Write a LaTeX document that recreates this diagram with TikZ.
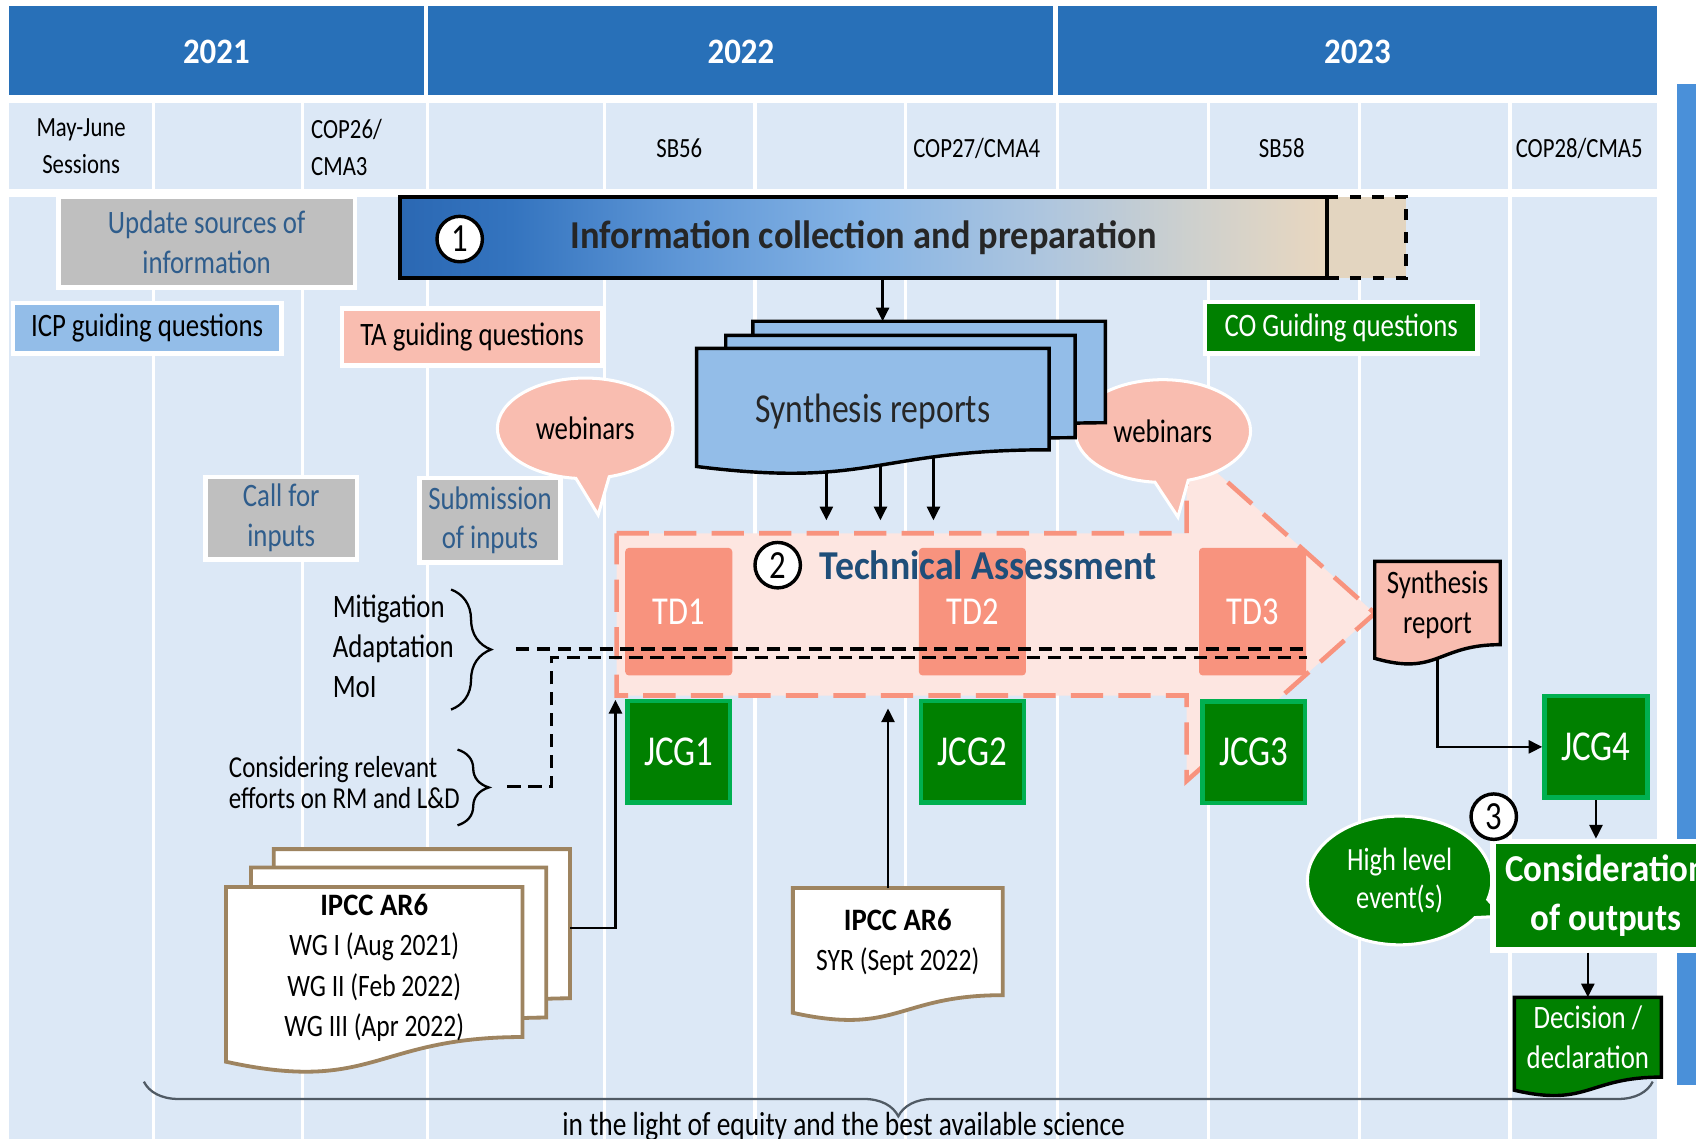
\documentclass[tikz,border=0pt]{standalone}
\usepackage{fontspec}
\setmainfont{Carlito}[FakeStretch=0.82]
\newfontfamily\headfont{Carlito}[FakeStretch=0.92]
\usetikzlibrary{positioning,calc,arrows.meta,shapes.callouts,decorations.pathreplacing}
\definecolor{yearblue}{HTML}{2870B8}
\definecolor{paleblue}{HTML}{DCE8F6}
\definecolor{sideblue}{HTML}{4A90D9}
\definecolor{boxgray}{HTML}{BFBFBF}
\definecolor{inkblue}{HTML}{2F5D8C}
\definecolor{lightblue}{HTML}{93BDE8}
\definecolor{salmon}{HTML}{F9BDB0}
\definecolor{tdsalmon}{HTML}{F8937E}
\definecolor{tafill}{HTML}{FDE6E1}
\definecolor{darkgreen}{HTML}{008000}
\definecolor{brightgreen}{HTML}{00B050}
\definecolor{titleblue}{HTML}{1F4E79}
\definecolor{docbrown}{HTML}{9E8460}
\definecolor{darktext}{HTML}{262626}
\definecolor{bracegray}{HTML}{505A64}
\definecolor{infotail}{HTML}{E3D5C0}
\definecolor{infoA}{HTML}{2B68B3}
\definecolor{infoB}{HTML}{3474BF}
\definecolor{infoC}{HTML}{5E96D6}
\definecolor{infoD}{HTML}{86B4E5}
\definecolor{infoE}{HTML}{AFC6DE}
\definecolor{infoF}{HTML}{CDD0CE}
\definecolor{infoG}{HTML}{E9D7BF}
\pgfdeclarehorizontalshading{infoshade}{100bp}{color(0bp)=(infoA); color(25bp)=(infoA); color(31bp)=(infoB); color(40bp)=(infoC); color(50bp)=(infoD); color(60bp)=(infoE); color(67.5bp)=(infoF); color(75bp)=(infoG); color(100bp)=(infoG)}
\newcommand{\docshape}[3]{%
  \path[#1] let \p1=#2, \p2=#3 in
    (\x1,\y1) -- (\x2,\y1) -- (\x2,{\y1+0.802*(\y2-\y1)})
    .. controls ({0.5*(\x1+\x2)},{\y1+0.802*(\y2-\y1)}) and ({0.5*(\x1+\x2)},{\y1+1.1075*(\y2-\y1)})
    .. (\x1,{\y1+0.934*(\y2-\y1)}) -- cycle;}

\begin{document}
\begin{tikzpicture}[>={Triangle[length=3.6pt,width=3.4pt]},
	every node/.style={font=\fontsize{8.6}{10.5}\selectfont},
	year/.style={text=white,font=\headfont\bfseries\fontsize{9.4}{11}\selectfont},
	session/.style={align=center,font=\fontsize{7.3}{9.7}\selectfont},
	graybox/.style={fill=boxgray,draw=white,line width=1.2pt,text=inkblue,align=center,inner sep=0pt},
	guide/.style={draw=white,line width=1.2pt,inner sep=0pt,minimum height=0.48cm},
	circ/.style={circle,draw=black,fill=white,line width=0.9pt,minimum size=0.42cm,inner sep=0pt,font=\fontsize{10.5}{12}\selectfont},
	tdbox/.style={fill=tdsalmon,rounded corners=1pt,minimum width=0.99cm,minimum height=1.18cm,text=white,font=\fontsize{10.4}{12}\selectfont},
	jcg/.style={fill=darkgreen,draw=brightgreen,line width=1.2pt,minimum width=0.95cm,minimum height=0.94cm,text=white,font=\fontsize{11.2}{13}\selectfont},
	bubble/.style={ellipse callout,fill=salmon,draw=white,line width=0.8pt,callout pointer arc=22},
	doctext/.style={anchor=north,align=center,inner sep=0pt},
	link/.style={->,line width=0.7pt},
	dline/.style={dash pattern=on 3.5pt off 2pt,line width=0.8pt}]
	\useasboundingbox (0,0) rectangle (15.68,-10.53);
	\clip (0,0) rectangle (15.68,-10.53);
	\fill[white] (0,0) rectangle (15.68,-10.53);
	\fill[yearblue] (0.08,-0.06) rectangle (15.32,-0.88);
	\draw[white,line width=1.2pt] (3.94,-0.06) -- (3.94,-0.88) (9.76,-0.06) -- (9.76,-0.88);
	\fill[paleblue] (0.08,-0.95) rectangle (15.32,-10.53);
	\fill[white] (0.08,-1.75) rectangle (15.32,-1.82);
	\foreach \x in {1.42,2.80,3.95,5.59,6.98,8.37,9.78,11.17,12.57,13.96}
		\draw[white,line width=0.8pt] (\x,-0.95) -- (\x,-10.53);
	\fill[sideblue] (15.50,-0.78) rectangle (15.68,-10.03);

	\node[year] (y2021) at (2.00,-0.48) {2021};
	\node[year] (y2022) at (6.85,-0.48) {2022};
	\node[year] (y2023) at (12.55,-0.48) {2023};
	\node[session] (mayjune) at (0.75,-1.35) {May-June\\Sessions};
	\node[session,align=left,anchor=west,inner sep=0pt] (cop26) at (2.87,-1.365) {COP26/\\CMA3};
	\node[session] (sb56) at (6.28,-1.37) {SB56};
	\node[session] (cop27) at (9.03,-1.37) {COP27/CMA4};
	\node[session] (sb58) at (11.85,-1.37) {SB58};
	\node[session] (cop28) at (14.60,-1.37) {COP28/CMA5};

	\node[graybox,minimum width=2.74cm,minimum height=0.84cm] (update) at (1.91,-2.24) {Update sources of\\information};
	\node[guide,fill=lightblue,minimum width=2.48cm,minimum height=0.47cm] (icpq) at (1.36,-3.035) {ICP guiding questions};
	\node[guide,fill=salmon,minimum width=2.41cm,minimum height=0.53cm] (taq) at (4.365,-3.115) {TA guiding questions};
	\node[guide,fill=darkgreen,text=white,minimum width=2.52cm] (coq) at (12.40,-3.03) {CO Guiding questions};

	\node[draw=black,dashed,line width=1pt,fill=infotail,minimum width=0.73cm,minimum height=0.75cm] (infoext) at (12.635,-2.195) {};
	\node[draw=black,line width=1.2pt,shade,shading=infoshade,minimum width=8.57cm,minimum height=0.75cm,text=darktext,font=\headfont\bfseries\fontsize{10.4}{12}\selectfont] (info) at (7.985,-2.195) {Information collection and preparation};
	\node[circ] (one) at (4.25,-2.21) {1};

	\path[fill=tafill,draw=tdsalmon,line width=1.2pt,dash pattern=on 8.5pt off 4pt] (5.70,-4.93) -- (10.97,-4.93) -- (10.97,-4.12) -- (12.71,-5.67) -- (10.97,-7.22) -- (10.97,-6.43) -- (5.70,-6.43) -- cycle;
	\coordinate (tatop) at (8,-4.93);
	\coordinate (tabot) at (8,-6.43);

	\node[bubble,minimum width=1.48cm,minimum height=0.93cm,callout absolute pointer={(5.53,-4.76)}] (webinars1) at (5.41,-3.96) {webinars};
	\node[bubble,minimum width=1.50cm,minimum height=0.95cm,callout absolute pointer={(10.89,-4.78)}] (webinars2) at (10.75,-3.985) {webinars};

	\docshape{fill=lightblue,draw=black,line width=0.9pt}{(6.96,-2.97)}{(10.22,-4.14)}
	\docshape{fill=lightblue,draw=black,line width=0.9pt}{(6.71,-3.10)}{(9.94,-4.28)}
	\docshape{fill=lightblue,draw=black,line width=0.9pt}{(6.44,-3.22)}{(9.70,-4.39)}
	\node[doctext,minimum width=3.26cm,minimum height=1.16cm,text=darktext,font=\fontsize{10.8}{13}\selectfont] (synth) at (8.07,-3.22) {Synthesis reports};
	\coordinate (synthtop) at (8.16,-2.97);
	\draw[link] (info.south -| synthtop) -- (synthtop);
	\coordinate (synthout1) at (7.64,-4.36);
	\coordinate (synthout2) at (8.14,-4.30);
	\coordinate (synthout3) at (8.63,-4.22);
	\foreach \c in {synthout1,synthout2,synthout3}
		\draw[link,shorten >=3.4pt] (\c) -- (\c |- tatop);

	\node[tdbox] (td1) at (6.275,-5.655) {TD1};
	\node[tdbox] (td2) at (8.99,-5.655) {TD2};
	\node[tdbox] (td3) at (11.58,-5.655) {TD3};
	\node[circ] (two) at (7.19,-5.225) {2};
	\node[anchor=west,inner sep=0pt,text=titleblue,font=\headfont\bfseries\fontsize{10.8}{13}\selectfont] (tatitle) at (7.57,-5.23) {Technical Assessment};

	\node[jcg] (jcg1) at (6.275,-6.95) {JCG1};
	\node[jcg] (jcg2) at (8.99,-6.95) {JCG2};
	\node[jcg] (jcg3) at (11.59,-6.955) {JCG3};
	\node[jcg] (jcg4) at (14.755,-6.905) {JCG4};

	\node[anchor=west,align=left,inner sep=0pt,font=\fontsize{8.6}{10.4}\selectfont] (topics) at (3.07,-5.975) {Mitigation\\Adaptation\\MoI};
	\draw[decorate,decoration={brace,amplitude=0.37cm},line width=0.6pt] (4.17,-5.45) -- (4.17,-6.56);
	\node[anchor=west,align=left,inner sep=0pt,font=\fontsize{8.0}{8.3}\selectfont] (efforts) at (2.11,-7.235) {Considering relevant\\efforts on RM and L\&D};
	\draw[decorate,decoration={brace,amplitude=0.29cm},line width=0.6pt] (4.23,-6.93) -- (4.23,-7.63);
	\coordinate (topicsend) at (4.77,-6.00);
	\coordinate (effortsend) at (4.69,-7.27);
	\draw[dline] (topicsend) -- (topicsend -| td3.east);
	\draw[dline] (effortsend) -| (5.10,-6.08) -- (td3.east |- 0,-6.08);

	\node[graybox,minimum width=1.40cm,minimum height=0.76cm] (callin) at (2.60,-4.79) {Call for\\inputs};
	\node[graybox,minimum width=1.30cm,minimum height=0.78cm] (submit) at (4.53,-4.81) {Submission\\of inputs};

	\docshape{fill=white,draw=docbrown,line width=1pt}{(2.53,-7.85)}{(5.27,-9.57)}
	\docshape{fill=white,draw=docbrown,line width=1pt}{(2.32,-8.02)}{(5.05,-9.75)}
	\docshape{fill=white,draw=docbrown,line width=1pt}{(2.09,-8.20)}{(4.83,-9.93)}
	\node[doctext,minimum width=2.74cm,minimum height=1.48cm,font=\fontsize{8.2}{10.6}\selectfont] (ar6) at (3.46,-8.20) {{\headfont\bfseries IPCC AR6}\\WG I (Aug 2021)\\WG II (Feb 2022)\\WG III (Apr 2022)};
	\coordinate (ar6out) at (5.27,-8.58);
	\coordinate (ar6in) at (5.69,-6.47);
	\draw[link] (ar6out) -| (ar6in);

	\docshape{fill=white,draw=docbrown,line width=1pt}{(7.33,-8.21)}{(9.27,-9.445)}
	\node[doctext,minimum width=1.94cm,minimum height=0.99cm,font=\fontsize{8.2}{10.6}\selectfont] (syr) at (8.30,-8.21) {{\headfont\bfseries IPCC AR6}\\SYR (Sept 2022)};
	\draw[link,shorten >=3.4pt] ([xshift=-0.09cm]syr.north) -- ([xshift=-0.09cm]syr.north |- tabot);

	\docshape{fill=salmon,draw=black,line width=0.9pt}{(12.71,-5.19)}{(13.87,-6.15)}
	\node[doctext,minimum width=1.16cm,minimum height=0.79cm] (synthrep) at (13.29,-5.19) {Synthesis\\report};
	\coordinate (synthrepout) at (13.29,-6.09);
	\draw[link] (synthrepout) |- (jcg4);

	\node[ellipse callout,fill=darkgreen,draw=white,line width=0.8pt,callout pointer arc=18,callout absolute pointer={(13.90,-8.47)},minimum width=1.66cm,minimum height=1.0cm,text=white,align=center,font=\fontsize{8.5}{10.2}\selectfont] (highlevel) at (12.94,-8.14) {High level\\event(s)};
	\node[fill=darkgreen,draw=white,line width=1.5pt,minimum width=1.92cm,minimum height=1.00cm,text=white,align=center,font=\headfont\bfseries\fontsize{10}{12.8}\selectfont] (consider) at (14.85,-8.28) {Consideration\\of outputs};
	\draw[link] (jcg4.south) -- (jcg4.south |- consider.north);
	\node[circ] (three) at (13.81,-7.55) {3};

	\docshape{fill=darkgreen,draw=black,line width=0.9pt}{(14.00,-9.22)}{(15.36,-10.14)}
	\node[doctext,minimum width=1.36cm,minimum height=0.73cm,text=white] (decision) at (14.68,-9.22) {Decision /\\declaration};
	\draw[link] (consider.south -| decision.north) -- (decision.north);

	\draw[decorate,decoration={brace,amplitude=0.32cm},draw=bracegray,line width=0.6pt] (15.28,-10.00) -- (1.33,-10.00);
	\node[anchor=base,font=\fontsize{8.8}{10.5}\selectfont] (equity) at (7.80,-10.50) {in the light of equity and the best available science};
\end{tikzpicture}
\end{document}
